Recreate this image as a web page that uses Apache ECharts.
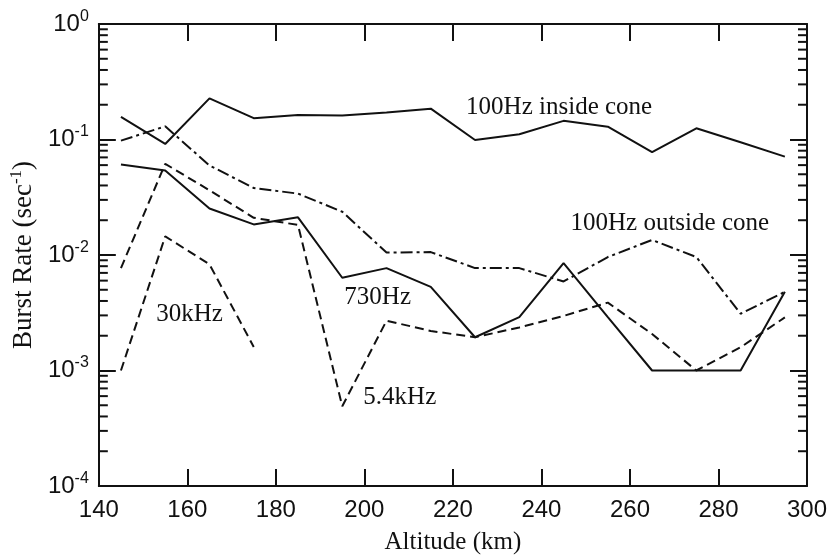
<!DOCTYPE html>
<html>
<head>
<meta charset="utf-8">
<script src="https://cdn.jsdelivr.net/npm/echarts@6/dist/echarts.min.js"></script>
<style>
    html, body { margin: 0; padding: 0; background: #fff; }
    #chart { width: 833px; height: 560px; }
</style>
</head>
<body>
<div id="chart"></div>
<script>
    // altitude bins (km)
    const altitudes = [145, 155, 165, 175, 185, 195, 205, 215, 225, 235, 245, 255, 265, 275, 285, 295];
    const altitudes30kHz = [145, 155, 165, 175];

    // burst rates (sec^-1)
    const inside100Hz = [0.157, 0.0915, 0.227, 0.153, 0.163, 0.161, 0.171, 0.185, 0.099, 0.111, 0.145, 0.129, 0.0776, 0.125, 0.0946, 0.0711];
    const outside100Hz = [0.0977, 0.130, 0.0596, 0.038, 0.034, 0.0237, 0.0105, 0.0106, 0.0077, 0.0077, 0.0059, 0.0096, 0.0135, 0.0096, 0.0031, 0.0048];
    const rate730Hz = [0.0608, 0.054, 0.0253, 0.0184, 0.0212, 0.00635, 0.0077, 0.0053, 0.00194, 0.0029, 0.0085, 0.0029, 0.001, 0.001, 0.001, 0.0048];
    const rate5400Hz = [0.0077, 0.0616, 0.0363, 0.021, 0.0182, 0.00049, 0.0027, 0.0022, 0.00194, 0.00236, 0.00297, 0.00387, 0.00207, 0.001, 0.00159, 0.00288];
    const rate30kHz = [0.001, 0.0145, 0.0083, 0.0016];

    // curve labels: [text, altitude, rate]
    const curveLabels = [
        ['100Hz inside cone', 244, 0.19],
        ['100Hz outside cone', 269, 0.0188],
        ['730Hz', 203, 0.0043],
        ['30kHz', 160.5, 0.00305],
        ['5.4kHz', 208, 0.00059]
    ];

    // log minor ticks 2..9 per decade
    const decades = [1e-4, 1e-3, 1e-2, 1e-1];
    const minorTicks = [];
    decades.forEach(d => {
        for (let k = 2; k <= 9; k++) minorTicks.push([140, +(d * k).toPrecision(3)]);
    });

    const pairs = (xs, ys) => xs.map((x, i) => [x, ys[i]]);

    const serifFont = '"Liberation Serif", "Times New Roman", serif';
    const sansFont = '"Liberation Sans", Arial, Helvetica, sans-serif';

    const lineSeries = (name, data, dash) => ({
        name: name,
        type: 'line',
        data: data,
        showSymbol: false,
        symbol: 'none',
        lineStyle: { color: '#111', width: 2, type: dash },
        z: 3
    });

    const myChart = echarts.init(document.getElementById('chart'));
    const options = {
        animation: false,
        backgroundColor: '#fff',
        grid: { left: 98, right: 26, top: 24, bottom: 70 },
        xAxis: [
            {
                type: 'value',
                min: 140,
                max: 300,
                interval: 20,
                position: 'bottom',
                name: 'Altitude (km)',
                nameLocation: 'middle',
                nameGap: 44,
                nameTextStyle: { fontFamily: serifFont, fontSize: 25, color: '#111' },
                axisLine: { lineStyle: { color: '#111', width: 2 } },
                axisTick: { inside: true, length: 17, lineStyle: { color: '#111', width: 2 } },
                axisLabel: { margin: 12, fontFamily: sansFont, fontSize: 24, color: '#111' },
                splitLine: { show: false }
            },
            {
                type: 'value',
                min: 140,
                max: 300,
                interval: 20,
                position: 'top',
                axisLine: { lineStyle: { color: '#111', width: 2 } },
                axisTick: { inside: true, length: 17, lineStyle: { color: '#111', width: 2 } },
                axisLabel: { show: false },
                splitLine: { show: false }
            }
        ],
        yAxis: [
            {
                type: 'log',
                logBase: 10,
                min: 1e-4,
                max: 1,
                position: 'left',
                name: '{a|Burst Rate (sec}{s|-1}{a|)}',
                nameLocation: 'middle',
                nameGap: 53,
                nameRotate: 90,
                nameTextStyle: {
                    rich: {
                        a: { fontFamily: serifFont, fontSize: 27, color: '#111' },
                        s: { fontFamily: serifFont, fontSize: 17, color: '#111', verticalAlign: 'bottom', padding: [0, 0, 14, 0] }
                    }
                },
                axisLine: { lineStyle: { color: '#111', width: 2 } },
                axisTick: { inside: true, length: 17, lineStyle: { color: '#111', width: 2 } },
                axisLabel: {
                    margin: 10,
                    formatter: v => '{b|10}{s|' + Math.round(Math.log10(v)) + '}',
                    rich: {
                        b: { fontFamily: sansFont, fontSize: 24, color: '#111' },
                        s: { fontFamily: sansFont, fontSize: 16, color: '#111', verticalAlign: 'bottom', padding: [0, 0, 15, 0] }
                    }
                },
                splitLine: { show: false }
            },
            {
                type: 'log',
                logBase: 10,
                min: 1e-4,
                max: 1,
                position: 'right',
                axisLine: { lineStyle: { color: '#111', width: 2 } },
                axisTick: { inside: true, length: 17, lineStyle: { color: '#111', width: 2 } },
                axisLabel: { show: false },
                splitLine: { show: false }
            }
        ],
        series: [
            lineSeries('100Hz inside cone', pairs(altitudes, inside100Hz), 'solid'),
            lineSeries('100Hz outside cone', pairs(altitudes, outside100Hz), [12, 4, 3, 4]),
            lineSeries('730Hz', pairs(altitudes, rate730Hz), 'solid'),
            lineSeries('5.4kHz', pairs(altitudes, rate5400Hz), [9, 5]),
            lineSeries('30kHz', pairs(altitudes30kHz, rate30kHz), [9, 5]),
            {
                // minor log ticks on both vertical edges
                type: 'custom',
                data: minorTicks,
                silent: true,
                renderItem: (params, api) => {
                    const left = api.coord([140, api.value(1)]);
                    const right = api.coord([300, api.value(1)]);
                    const style = { stroke: '#111', lineWidth: 2 };
                    return {
                        type: 'group',
                        children: [
                            { type: 'line', shape: { x1: left[0], y1: left[1], x2: left[0] + 9, y2: left[1] }, style: style },
                            { type: 'line', shape: { x1: right[0] - 9, y1: right[1], x2: right[0], y2: right[1] }, style: style }
                        ]
                    };
                }
            },
            {
                // curve annotations
                type: 'scatter',
                data: curveLabels.map(l => ({ value: [l[1], l[2]], name: l[0] })),
                symbolSize: 0,
                silent: true,
                itemStyle: { opacity: 1 },
                label: {
                    show: true,
                    position: 'inside',
                    formatter: p => p.name,
                    fontFamily: serifFont,
                    fontSize: 25,
                    color: '#111',
                    opacity: 1
                }
            }
        ]
    };
    myChart.setOption(options);
    window.addEventListener('resize', myChart.resize);
</script>
</body>
</html>
